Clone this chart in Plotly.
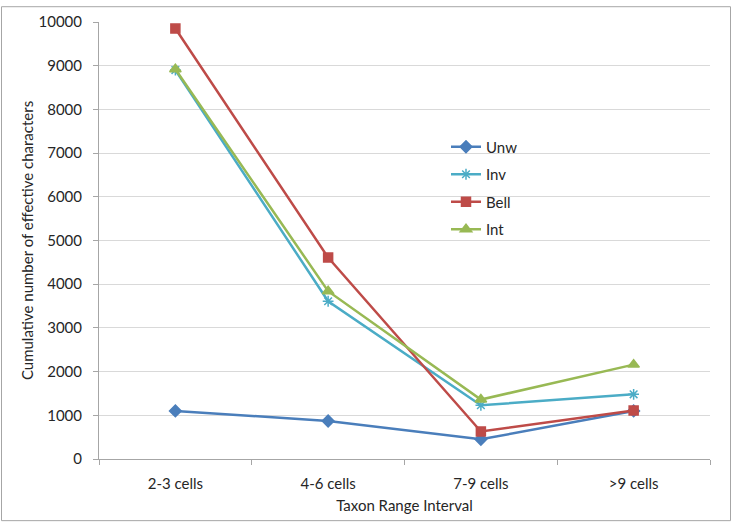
import plotly.graph_objects as go

categories = ["2-3 cells", "4-6 cells", "7-9 cells", ">9 cells"]
unw = [1100, 870, 450, 1100]
inv = [8900, 3610, 1230, 1480]
bell = [9850, 4610, 630, 1110]
intv = [8920, 3840, 1360, 2160]
y_ticks = list(range(0, 10001, 1000))

series = [
    ("Unw", unw, "#4A7EBB", "diamond", 9),
    ("Inv", inv, "#4BACC6", "asterisk-open", 9),
    ("Bell", bell, "#BE4B48", "square", 9),
    ("Int", intv, "#98B954", "triangle-up", 10),
]

fig = go.Figure()
for name, vals, color, sym, sz in series:
    fig.add_trace(go.Scatter(
        x=categories, y=vals, name=name, mode="lines+markers",
        line=dict(color=color, width=2.5),
        marker=dict(symbol=sym, size=sz, color=color,
                    line=dict(color=color, width=1.5)),
        legendgroup=name,
    ))

W, H = 732, 524
ml, mr, mt, mb = 99, 22, 17, 64
pw, ph = W - ml - mr, H - mt - mb

def px_to_paper(x, y):
    return (x - ml) / pw, (H - mb - y) / ph

x0, y1 = px_to_paper(1.5, 1.5)
x1, y0 = px_to_paper(730.5, 522.5)

fig.update_layout(
    width=W, height=H,
    margin=dict(l=ml, r=mr, t=mt, b=mb),
    paper_bgcolor="white", plot_bgcolor="white",
    font=dict(family="Lato, Open Sans, sans-serif", size=15, color="#262626"),
    showlegend=True,
    legend=dict(x=(446 - ml) / pw, y=(H - mb - 127) / ph, xanchor="left", yanchor="top",
                bgcolor="rgba(0,0,0,0)", tracegroupgap=5,
                font=dict(size=15, color="#262626"), itemwidth=30),
    xaxis=dict(
        type="category", title=dict(text="Taxon Range Interval", font=dict(size=15), standoff=9),
        showline=True, linecolor="#A6A6A6", linewidth=1,
        ticks="outside", tickson="boundaries", ticklen=5, tickcolor="#A6A6A6",
        showgrid=False, range=[-0.5, 3.5], tickfont=dict(size=15),
        ticklabelstandoff=11,
    ),
    yaxis=dict(
        title=dict(text="Cumulative number of effective characters", font=dict(size=15), standoff=1),
        range=[0, 10000], tickvals=y_ticks, ticktext=[str(v) for v in y_ticks],
        showline=True, linecolor="#A6A6A6", linewidth=1,
        ticks="outside", ticklen=5, tickcolor="#A6A6A6",
        showgrid=True, gridcolor="#D9D9D9", gridwidth=1, zeroline=False,
        tickfont=dict(size=15), ticklabelstandoff=8,
    ),
    shapes=[dict(type="rect", xref="paper", yref="paper", x0=x0, x1=x1, y0=y0, y1=y1,
                 line=dict(color="#A6A6A6", width=1), layer="below")],
)

fig.write_html("out.html", config={"displayModeBar": False},
               post_script="document.body.style.margin='0';document.body.style.padding='0';")
